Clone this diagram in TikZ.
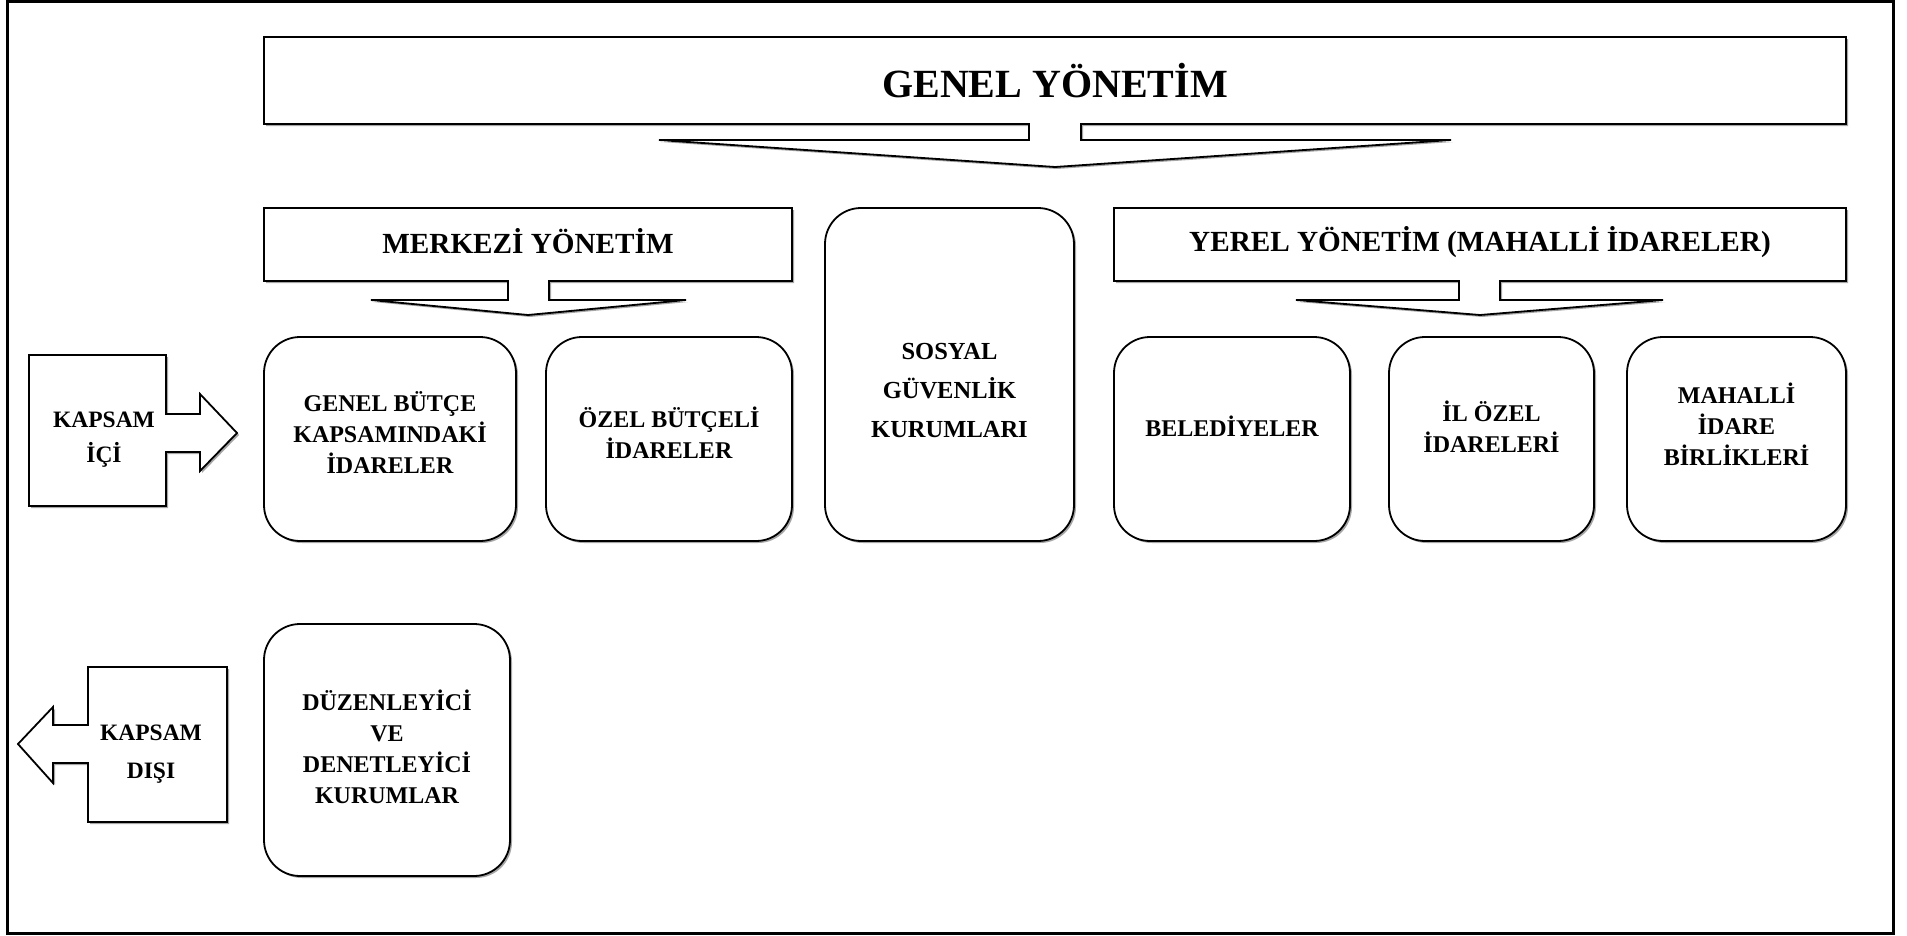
\documentclass[tikz,border=0pt]{standalone}
\usepackage{fontspec}
\setmainfont{Liberation Serif}
\usetikzlibrary{shadows}
\begin{document}
\begin{tikzpicture}[x=1pt,y=-1pt,
  softshadow/.style={drop shadow={shadow xshift=2pt,shadow yshift=-2pt,fill=black!35,opacity=1}},
  outline/.style={draw=black,line width=1.8pt,fill=white,line join=miter,softshadow},
  roundbox/.style={draw=black,line width=1.8pt,fill=white,rounded corners=36pt,inner sep=0pt,softshadow},
  boxtext/.style={align=center,inner sep=0pt,font=\fontsize{24}{31}\selectfont\bfseries},
  bannertext/.style={inner sep=0pt,font=\fontsize{29.2}{34}\selectfont\bfseries},
  titletext/.style={inner sep=0pt,font=\fontsize{40}{46}\selectfont\bfseries},
  sidetext/.style={align=center,inner sep=0pt,font=\fontsize{23.5}{35}\selectfont\bfseries},
]
\useasboundingbox (0,0) rectangle (1907,935);
% outer frame
\draw[line width=3pt] (7,1.5) rectangle (1893,933);

% top banner with its down-arrow callout
\draw[outline] (264,37) -- (1846,37) -- (1846,124) -- (1081,124) -- (1081,140)
  -- (1451,140) -- (1055,167) -- (659,140) -- (1029,140) -- (1029,124)
  -- (264,124) -- cycle;
\node[titletext] (genel) at (1055,81) {GENEL YÖNETİM};

% central government banner
\draw[outline] (264,208) -- (792,208) -- (792,281) -- (549,281) -- (549,300)
  -- (686,300) -- (528,315) -- (371,300) -- (508,300) -- (508,281)
  -- (264,281) -- cycle;
\node[bannertext] (merkezi) at (528,241) {MERKEZİ YÖNETİM};

% local government banner
\draw[outline] (1114,208) -- (1846,208) -- (1846,281) -- (1500,281) -- (1500,300)
  -- (1663,300) -- (1480,315) -- (1296,300) -- (1459,300) -- (1459,281)
  -- (1114,281) -- cycle;
\node[bannertext] (yerel) at (1480,242) {YEREL YÖNETİM (MAHALLİ İDARELER)};

% rounded boxes
\node[roundbox,minimum width=252pt,minimum height=204pt] (gb) at (390,439) {};
\node[boxtext] (gbt) at (390,433) {GENEL BÜTÇE\\KAPSAMINDAKİ\\İDARELER};

\node[roundbox,minimum width=246pt,minimum height=204pt] (ob) at (669,439) {};
\node[boxtext] (obt) at (669,433) {ÖZEL BÜTÇELİ\\İDARELER};

\node[roundbox,minimum width=249pt,minimum height=333pt] (sg) at (949.5,374.5) {};
\node[boxtext,font=\fontsize{24.5}{39}\selectfont\bfseries] (sgt) at (949.5,390) {SOSYAL\\GÜVENLİK\\KURUMLARI};

\node[roundbox,minimum width=236pt,minimum height=204pt] (bel) at (1232,439) {};
\node[boxtext] (belt) at (1232,426) {BELEDİYELER};

\node[roundbox,minimum width=205pt,minimum height=204pt] (ioi) at (1491.5,439) {};
\node[boxtext] (ioit) at (1491.5,427) {İL ÖZEL\\İDARELERİ};

\node[roundbox,minimum width=219pt,minimum height=204pt] (mib) at (1736.5,439) {};
\node[boxtext] (mibt) at (1736.5,424) {MAHALLİ\\İDARE\\BİRLİKLERİ};

\node[roundbox,minimum width=246pt,minimum height=252pt] (dd) at (387,750) {};
\node[boxtext] (ddt) at (387,747) {DÜZENLEYİCİ\\VE\\DENETLEYİCİ\\KURUMLAR};

% in-scope arrow box
\draw[outline] (29,355) -- (166,355) -- (166,414) -- (200,414) -- (200,394)
  -- (237,433) -- (200,471) -- (200,452) -- (166,452) -- (166,506)
  -- (29,506) -- cycle;
\node[sidetext] (ici) at (104,440) {KAPSAM\\İÇİ};

% out-of-scope arrow box
\draw[outline] (88,667) -- (227,667) -- (227,822) -- (88,822) -- (88,763)
  -- (53,763) -- (53,783) -- (18,744) -- (53,707) -- (53,725) -- (88,725)
  -- cycle;
\node[sidetext,font=\fontsize{23.5}{38}\selectfont\bfseries] (disi) at (151,754) {KAPSAM\\DIŞI};
\end{tikzpicture}
\end{document}
